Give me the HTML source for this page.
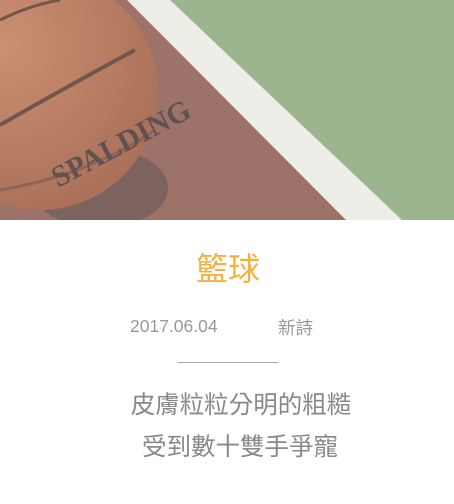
<!DOCTYPE html>
<html><head><meta charset="utf-8"><style>
body{margin:0;width:454px;height:504px;background:#fff;overflow:hidden;font-family:"Liberation Sans","Noto Sans CJK TC",sans-serif}
.t{position:absolute;left:0;width:454px;text-align:center}
</style></head><body>
<svg width="454" height="220" style="position:absolute;left:0;top:0">
<defs><radialGradient id="b" cx="0.35" cy="0.3" r="0.8"><stop offset="0" stop-color="#c4805f"/><stop offset="1" stop-color="#9c5a40"/></radialGradient></defs>
<rect width="454" height="220" fill="#8fab7f"/>
<polygon points="0,0 130,0 348,220 0,220" fill="#8f5f55"/>
<polygon points="127,0 170,0 402,220 346,220" fill="#ecebe4"/>
<ellipse cx="100" cy="188" rx="68" ry="40" fill="#6a4e4a"/>
<circle cx="40" cy="92" r="118" fill="url(#b)"/>
<path d="M0,125 Q70,85 135,50" stroke="#5e3f36" stroke-width="4" fill="none"/>
<path d="M0,20 Q30,5 60,0" stroke="#5e3f36" stroke-width="3" fill="none"/>
<path d="M0,190 Q90,175 155,130" stroke="#7a4f40" stroke-width="3" fill="none"/>
<text x="40" y="165" font-family="Liberation Serif" font-weight="bold" font-size="30" fill="#4a3b3a" transform="rotate(-28 95 140)">SPALDING</text>
<rect width="454" height="220" fill="#fff" opacity="0.12"/>
</svg>
<div class="t" style="top:249px;font-size:32px;line-height:40px;color:#f5b041;left:1px">籃球</div>
<div style="position:absolute;left:130px;top:316px;font-size:17.5px;color:#999">2017.06.04</div>
<div style="position:absolute;left:278px;top:315px;font-size:17.5px;color:#999">新詩</div>
<div style="position:absolute;left:178px;top:362px;width:100px;height:1px;background:#aaa"></div>
<div class="t" style="top:386px;left:14px;font-size:24.5px;color:#888">皮膚粒粒分明的粗糙</div>
<div class="t" style="top:428px;left:13px;font-size:24.5px;color:#888">受到數十雙手爭寵</div>
</body></html>
